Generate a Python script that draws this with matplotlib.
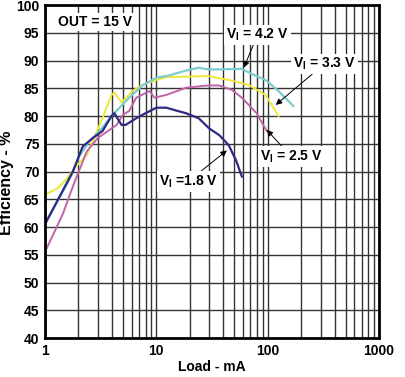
import matplotlib
matplotlib.use("Agg")
import matplotlib.pyplot as plt
from matplotlib.ticker import FixedLocator, NullFormatter, LogLocator

plt.rcParams['font.family'] = ['Liberation Sans', 'DejaVu Sans']
plt.rcParams['font.weight'] = 'bold'

# Data (Load in mA, Efficiency in %)
load_18 = [1, 1.78, 2.18, 2.68, 3.29, 3.96, 4.2, 4.5, 4.87, 5.3, 6.6, 8, 10, 12.3, 15, 18.5, 24, 29.7, 37, 44.8, 52, 58.6]
eff_18 = [60.5, 70, 74.5, 76, 77.3, 80, 80.5, 79.5, 78.4, 78.4, 79.6, 80.5, 81.5, 81.5, 81, 80.5, 79.6, 77.8, 76.5, 74.7, 72, 69.1]

load_25 = [1, 1.45, 1.78, 2.37, 2.97, 4.4, 5.0, 5.7, 6.6, 8.7, 9.6, 12.3, 18.5, 29, 36.6, 47.8, 58.6, 79.5, 98]
eff_25 = [55.5, 62.4, 67.3, 73.6, 76, 78.4, 80.2, 80.9, 83.3, 84.5, 83.3, 83.8, 85.1, 85.5, 85.5, 84.7, 83.3, 80.5, 77.3]

load_33 = [1, 1.3, 1.57, 1.93, 2.37, 2.68, 3.29, 3.96, 4.2, 4.87, 6.1, 7.5, 10, 12.3, 29, 44.8, 67.6, 95.5, 125]
eff_33 = [65.8, 67.0, 68.7, 71.1, 72.9, 75.5, 79.6, 83.8, 84.2, 82.4, 84.5, 85.6, 86.5, 87, 87.2, 86.5, 85.6, 83.8, 80]

load_42 = [1, 1.67, 2.05, 2.52, 3.1, 3.96, 5.7, 7.5, 10, 13, 18.5, 24, 29, 36.6, 58.6, 71.8, 95.5, 125, 170]
eff_42 = [60.5, 68.7, 72.9, 75.5, 77.3, 80, 83.3, 85.5, 86.9, 87.3, 88.2, 88.7, 88.4, 88.4, 88.5, 87.6, 86.5, 84.5, 81.8]

x_ticks = [1, 10, 100, 1000]
x_tick_labels = ["1", "10", "100", "1000"]
y_ticks = list(range(40, 101, 5))

fig = plt.figure(figsize=(4.05, 3.77), dpi=100)
ax = fig.add_axes([0.111, 0.1034, 0.825, 0.8833])

ax.plot(load_33, eff_33, color='#EEE838', lw=1.4, zorder=2)
ax.plot(load_25, eff_25, color='#C063A8', lw=1.4, zorder=2)
ax.plot(load_42, eff_42, color='#7CCBCD', lw=1.6, zorder=2)
ax.plot(load_18, eff_18, color='#2D2A85', lw=1.6, zorder=2)

ax.set_xscale('log')
ax.set_xlim(1, 1000)
ax.set_ylim(40, 100)
ax.xaxis.set_major_locator(FixedLocator(x_ticks))
ax.set_xticklabels(x_tick_labels)
ax.xaxis.set_minor_locator(LogLocator(base=10, subs=range(2, 10)))
ax.xaxis.set_minor_formatter(NullFormatter())
ax.set_yticks(y_ticks)
ax.set_yticklabels([str(v) for v in y_ticks])

ax.grid(True, which='major', color='#333333', lw=1.0, zorder=0)
ax.grid(True, which='minor', axis='x', color='#333333', lw=1.0, zorder=0)
ax.set_axisbelow(True)
ax.tick_params(which='both', length=0, labelsize=10, pad=4)
for lab in ax.get_xticklabels() + ax.get_yticklabels():
    lab.set_fontweight('bold')
for s in ax.spines.values():
    s.set_linewidth(2.0)
    s.set_color('black')

ax.set_xlabel('Load - mA', fontsize=10, fontweight='bold', labelpad=2)
ax.set_ylabel('Efficiency - %', fontsize=11.5, fontweight='bold')
ax.yaxis.set_label_coords(-0.092, 0.465)

box = dict(facecolor='white', edgecolor='none', pad=1.5)
ax.text(1.32, 97.0, 'OUT = 15 V', fontsize=10, fontweight='bold', va='center', ha='left', bbox=box, zorder=4)

arrow = dict(arrowstyle='-|>', color='black', lw=0.7, mutation_scale=9, shrinkA=0, shrinkB=0)
ax.annotate(r'V$_\mathregular{I}$ = 4.2 V', xy=(61, 88.7), xytext=(81, 94.6), fontsize=10, fontweight='bold',
            ha='center', va='center', bbox=box, arrowprops=arrow, zorder=4)
ax.annotate(r'V$_\mathregular{I}$ = 3.3 V', xy=(118, 82), xytext=(323, 89.4), fontsize=10, fontweight='bold',
            ha='center', va='center', bbox=box, arrowprops=arrow, zorder=4)
ax.annotate(r'V$_\mathregular{I}$ = 2.5 V', xy=(98, 77.5), xytext=(163, 72.7), fontsize=10, fontweight='bold',
            ha='center', va='center', bbox=box, arrowprops=arrow, zorder=4)
ax.annotate(r'V$_\mathregular{I}$ =1.8 V', xy=(43, 73.8), xytext=(19.3, 68.2), fontsize=10, fontweight='bold',
            ha='center', va='center', bbox=box, arrowprops=arrow, zorder=4)

fig.savefig('out.png', dpi=100)
